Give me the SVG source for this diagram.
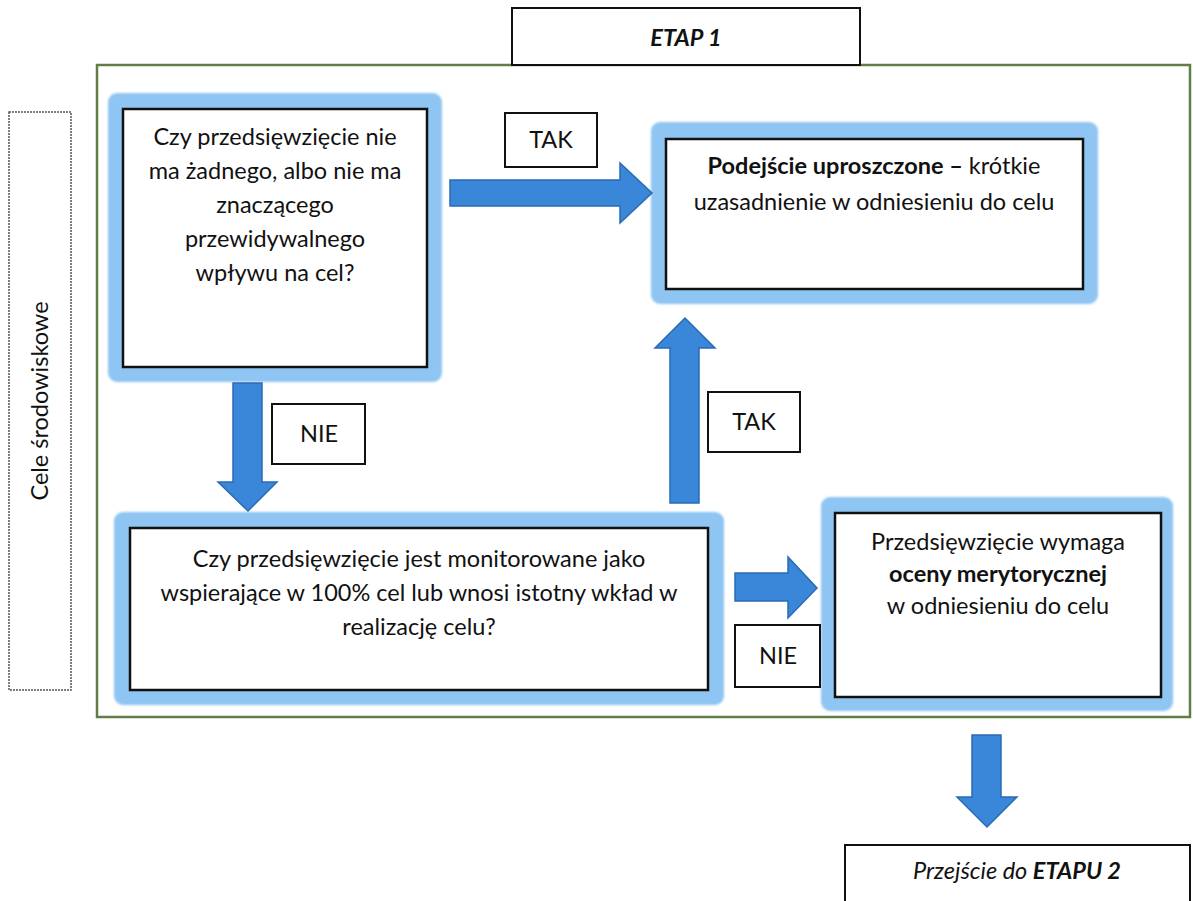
<svg xmlns="http://www.w3.org/2000/svg" width="1193" height="901" viewBox="0 0 1193 901">
<style>
text{font-family:Lato,"Open Sans","Liberation Sans",sans-serif;fill:#111;font-size:23.5px}
.c{text-anchor:middle}
.b{font-weight:bold}
.box{fill:#fff;stroke:#111;stroke-width:2.5}
.glow{fill:#8ec5f2;stroke:#8ec5f2;stroke-width:6}
.lbl{fill:#fff;stroke:#111;stroke-width:2}
.arr{fill:#3a86d8;stroke:#2a6bb5;stroke-width:1.5}
</style>
<defs>
<filter id="soft" x="-5%" y="-5%" width="110%" height="110%"><feGaussianBlur stdDeviation="1.2"/></filter>
</defs>
<rect width="1193" height="901" fill="#fff"/>
<g id="frame">
<rect x="97" y="65" width="1093" height="652" fill="none" stroke="#5f7f45" stroke-width="2.5"/>
</g>
<g id="etap1">
<rect x="512" y="8" width="348" height="57" class="lbl"/>
<text x="686" y="46" class="c b" font-style="italic" font-size="22">ETAP 1</text>
</g>
<g id="cele">
<rect x="9" y="112" width="62" height="578" fill="none" stroke="#555" stroke-width="1.5" stroke-dasharray="2 1"/>
<text transform="translate(48 401) rotate(-90)" class="c">Cele środowiskowe</text>
</g>
<g id="q1">
<rect x="111" y="96" width="328" height="283" rx="6" class="glow" filter="url(#soft)"/>
<rect x="123" y="109" width="304" height="258" class="box"/>
<text class="c" x="275" y="145">Czy przedsięwzięcie nie</text>
<text class="c" x="275" y="179">ma żadnego, albo nie ma</text>
<text class="c" x="275" y="213">znaczącego</text>
<text class="c" x="275" y="247">przewidywalnego</text>
<text class="c" x="275" y="281">wpływu na cel?</text>
</g>
<g id="simple">
<rect x="654" y="125" width="441" height="176" rx="6" class="glow" filter="url(#soft)"/>
<rect x="666" y="139" width="417" height="150" class="box"/>
<text class="c" x="874" y="174"><tspan class="b">Podejście uproszczone –</tspan> krótkie</text>
<text class="c" x="874" y="210">uzasadnienie w odniesieniu do celu</text>
</g>
<g id="q2">
<rect x="117" y="515" width="604" height="187" rx="6" class="glow" filter="url(#soft)"/>
<rect x="130" y="528" width="578" height="162" class="box"/>
<text class="c" x="419" y="567">Czy przedsięwzięcie jest monitorowane jako</text>
<text class="c" x="419" y="601">wspierające w 100% cel lub wnosi istotny wkład w</text>
<text class="c" x="419" y="635">realizację celu?</text>
</g>
<g id="merit">
<rect x="824" y="500" width="346" height="208" rx="6" class="glow" filter="url(#soft)"/>
<rect x="835" y="513" width="326" height="184" class="box"/>
<text class="c" x="998" y="550">Przedsięwzięcie wymaga</text>
<text class="c b" x="998" y="582">oceny merytorycznej</text>
<text class="c" x="998" y="614">w odniesieniu do celu</text>
</g>
<g id="etap2">
<rect x="845" y="845" width="345" height="62" class="lbl"/>
<text class="c" x="1017" y="879" font-style="italic" font-size="22">Przejście do <tspan class="b">ETAPU 2</tspan></text>
</g>
<g id="connectors">
<polygon class="arr" points="450,180 620,180 620,163 652,193 620,223 620,206 450,206"/>
<rect x="505" y="113" width="92" height="54" class="lbl"/>
<text class="c" x="551" y="148">TAK</text>
<polygon class="arr" points="670,503 670,348 655,348 685,318 715,348 699,348 699,503"/>
<rect x="708" y="392" width="92" height="60" class="lbl"/>
<text class="c" x="754" y="430">TAK</text>
<polygon class="arr" points="233,383 262,383 262,482 277,482 248,511 218,482 233,482"/>
<rect x="272" y="404" width="93" height="60" class="lbl"/>
<text class="c" x="319" y="442">NIE</text>
<polygon class="arr" points="735,573 788,573 788,557 817,588 788,618 788,601 735,601"/>
<rect x="735" y="625" width="85" height="62" class="lbl"/>
<text class="c" x="778" y="664">NIE</text>
<polygon class="arr" points="972,735 1001,735 1001,797 1017,797 987,827 957,797 972,797"/>
</g>
</svg>
